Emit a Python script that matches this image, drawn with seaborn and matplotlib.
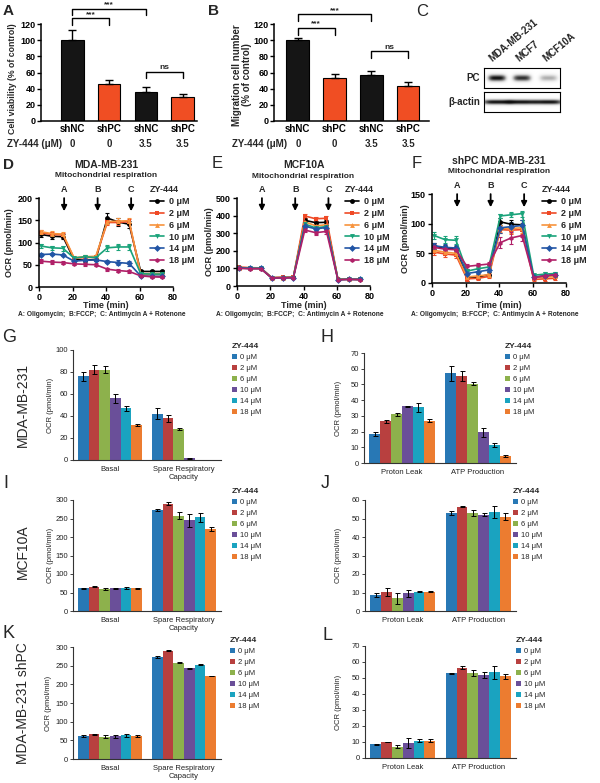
import numpy as np
import pandas as pd
import matplotlib
matplotlib.use("Agg")
import matplotlib.pyplot as plt
import matplotlib.transforms as mtransforms
from matplotlib.lines import Line2D
from matplotlib.patches import Patch
import seaborn as sns

# ---- A / B : viability and migration ----
ab_groups = ["shNC", "shPC", "shNC", "shPC"]
ab_dose = ["0", "0", "3.5", "3.5"]
ab_colors = ["#151515", "#f04e23", "#151515", "#f04e23"]
viability = [100, 46, 36, 30]
viability_err = [13, 5, 6, 3]
migration = [100, 53, 57, 43]
migration_err = [3, 5, 5, 5]
sig_a = [(0, 1, 127, "***"), (0, 2, 139, "***"), (2, 3, 61, "ns")]
sig_b = [(0, 1, 115, "***"), (0, 2, 132, "***"), (2, 3, 86, "ns")]

# ---- C : western blot ----
blot_lines = ["MDA-MB-231", "MCF7", "MCF10A"]
pc_level = [1.0, 0.9, 0.45]
actin_level = [1.0, 1.0, 1.0]

# ---- D / E / F : Seahorse time course ----
doses = ["0 μM", "2 μM", "6 μM", "10 μM", "14 μM", "18 μM"]
time_min = [1.3, 7.8, 14.3, 20.9, 27.4, 33.9, 40.8, 47.3, 53.8, 60.7, 67.2, 73.7]
inject_times = [15, 35, 55]
inject_labels = ["A", "B", "C"]
line_colors = ["#000000", "#ef4a26", "#f7933d", "#1aa37a", "#2255a5", "#b02068"]
line_markers = ["o", "s", "^", "v", "D", "h"]

d_ocr = {
    "0 μM": [118, 114, 113, 62, 60, 62, 155, 146, 141, 35, 35, 35],
    "2 μM": [122, 118, 117, 65, 66, 67, 145, 145, 147, 28, 28, 28],
    "6 μM": [124, 120, 119, 66, 68, 69, 147, 148, 149, 30, 30, 30],
    "10 μM": [92, 88, 87, 65, 68, 66, 88, 90, 90, 30, 29, 29],
    "14 μM": [73, 74, 72, 58, 60, 61, 57, 55, 53, 25, 24, 24],
    "18 μM": [58, 56, 55, 52, 51, 50, 40, 37, 35, 25, 23, 22],
}
d_err = {
    "0 μM": [6, 6, 5, 3, 3, 3, 12, 9, 8, 3, 3, 3],
    "2 μM": [5, 5, 5, 3, 3, 3, 5, 6, 6, 2, 2, 2],
    "6 μM": [5, 5, 5, 3, 3, 3, 5, 6, 6, 2, 2, 2],
    "10 μM": [4, 5, 5, 3, 3, 3, 6, 7, 6, 2, 2, 2],
    "14 μM": [3, 3, 3, 2, 2, 2, 4, 5, 5, 2, 2, 2],
    "18 μM": [5, 5, 4, 3, 3, 3, 3, 4, 4, 2, 2, 2],
}
e_ocr = {
    "0 μM": [102, 100, 100, 47, 48, 49, 373, 360, 362, 38, 39, 38],
    "2 μM": [108, 104, 103, 48, 49, 50, 398, 382, 385, 38, 40, 38],
    "6 μM": [104, 102, 101, 47, 48, 49, 365, 342, 348, 37, 39, 37],
    "10 μM": [103, 101, 100, 46, 47, 48, 352, 330, 338, 36, 38, 37],
    "14 μM": [103, 100, 100, 46, 47, 48, 340, 325, 332, 36, 38, 37],
    "18 μM": [100, 98, 98, 45, 46, 47, 318, 303, 310, 35, 37, 36],
}
e_err = {d: [8, 6, 6, 3, 3, 3, 12, 12, 14, 3, 3, 3] for d in doses}
f_ocr = {
    "0 μM": [62, 59, 57, 8, 10, 14, 103, 99, 98, 9, 12, 13],
    "2 μM": [52, 49, 47, 7, 8, 11, 90, 89, 90, 6, 7, 8],
    "6 μM": [55, 52, 50, 10, 12, 14, 92, 92, 93, 9, 10, 11],
    "10 μM": [80, 73, 72, 20, 24, 27, 113, 115, 117, 13, 15, 16],
    "14 μM": [63, 60, 59, 16, 19, 22, 93, 95, 97, 10, 12, 14],
    "18 μM": [60, 57, 56, 28, 30, 32, 68, 76, 80, 9, 12, 14],
}
f_err = {
    "0 μM": [5, 5, 5, 4, 4, 4, 6, 7, 8, 3, 3, 3],
    "2 μM": [5, 5, 5, 3, 3, 3, 6, 7, 8, 3, 3, 3],
    "6 μM": [5, 5, 5, 3, 3, 3, 6, 7, 8, 3, 3, 3],
    "10 μM": [6, 6, 7, 4, 4, 4, 4, 4, 5, 3, 3, 3],
    "14 μM": [5, 5, 5, 4, 4, 4, 8, 8, 9, 3, 3, 3],
    "18 μM": [5, 5, 5, 4, 4, 4, 9, 10, 10, 3, 3, 3],
}

# ---- G - L : Seahorse summary bars ----
bar_colors = ["#2878b5", "#b8403f", "#8db14c", "#6a4f99", "#1aa3c0", "#ec7c30"]
resp_cats = ["Basal", "Spare Respiratory\nCapacity"]
atp_cats = ["Proton Leak", "ATP Production"]

g_basal = [76, 82, 82, 56, 47, 32]
g_basal_err = [4, 4, 3, 4, 2, 1]
g_spare = [42, 38, 28, 1.5, 0, 0]
g_spare_err = [5, 3, 1, 0.7, 0, 0]

h_leak = [18.5, 26.5, 31, 36, 35.5, 27]
h_leak_err = [1, 1, 1, 0.5, 3, 1]
h_atp = [57, 55.5, 50.5, 19.5, 11.5, 4.5]
h_atp_err = [5, 3, 1, 3, 1, 0.5]

i_basal = [61, 66, 60, 61, 63, 61]
i_basal_err = [2, 2, 3, 2, 3, 2]
i_spare = [273, 290, 258, 245, 253, 222]
i_spare_err = [4, 4, 10, 18, 12, 5]

j_leak = [8.5, 10.2, 7, 9.5, 10.5, 10.5]
j_leak_err = [1, 2, 3, 2, 0.3, 0.3]
j_atp = [53, 56.3, 53, 52, 53.5, 51]
j_atp_err = [1, 0.3, 1.5, 0.8, 3, 2]

k_basal = [61, 66, 60, 61, 63, 61]
k_basal_err = [2, 2, 4, 4, 5, 3]
k_spare = [273, 290, 258, 243, 253, 222]
k_spare_err = [2, 2, 2, 2, 2, 1]

l_leak = [8.5, 10, 7, 9.5, 10.8, 10.8]
l_leak_err = [0.5, 0.3, 1, 3, 1, 1]
l_atp = [53, 56.5, 53, 52, 53.5, 51]
l_atp_err = [0.3, 1, 2, 2, 4, 1.5]

sns.set_theme(style="ticks")
plt.rcParams["font.family"] = ["Liberation Sans", "DejaVu Sans"]
NARROW = ["Liberation Sans Narrow", "Liberation Sans"]

W, H = 600, 783
fig = plt.figure(figsize=(6, 7.83), dpi=100)


def px_axes(x0, y0, x1, y1):
    return fig.add_axes([x0 / W, 1 - y1 / H, (x1 - x0) / W, (y1 - y0) / H])


def fig_text(x, y, s, **kw):
    fig.text(x / W, 1 - y / H, s, **kw)


def prism_style(ax, fs):
    sns.despine(ax=ax)
    for s in ("left", "bottom"):
        ax.spines[s].set_linewidth(1.1)
        ax.spines[s].set_color("black")
    ax.tick_params(direction="out", length=3, width=1, labelsize=fs, pad=1.5, colors="black")
    plt.setp(ax.get_xticklabels() + ax.get_yticklabels(), fontweight="bold")


def bar_panel(x0, x1, vals, errs, sig, dose_x, ylabel_kw):
    ax = px_axes(x0, 24, x1, 121)
    names = [f"{g} {d}" for g, d in zip(ab_groups, ab_dose)]
    sns.barplot(x=names, y=vals, hue=names, palette=ab_colors, legend=False,
                width=0.62, saturation=1, edgecolor="black", linewidth=0.8, ax=ax)
    ax.errorbar(range(4), vals, yerr=[[0] * 4, errs], fmt="none", ecolor="black",
                elinewidth=1, capsize=3, capthick=1, zorder=5)
    ax.set_ylim(0, 120)
    ax.set_yticks(range(0, 121, 20))
    ax.set_xticks(range(4), ab_groups)
    ax.set_xlabel("")
    prism_style(ax, 6.5)
    ax.tick_params(axis="x", length=0, pad=2, labelsize=7)
    ax.tick_params(axis="y", pad=1)
    plt.setp(ax.get_yticklabels(), fontfamily=NARROW, fontsize=6.5)
    trans = mtransforms.blended_transform_factory(ax.transData, ax.transAxes)
    for i, d in enumerate(ab_dose):
        ax.text(i, -0.237, d, transform=trans, ha="center", va="center",
                fontsize=7, fontweight="bold")
    fig_text(dose_x, 144, "ZY-444 (μM)", ha="left", va="center", fontsize=7, fontweight="bold")
    for i, j, y, lab in sig:
        tick = 8
        ax.plot([i, i, j, j], [y - tick, y, y, y - tick], color="black", lw=1, clip_on=False)
        ax.text((i + j) / 2, y + 0.5, lab, ha="center", va="bottom",
                fontsize=6, fontweight="bold", clip_on=False)
    fig_text(**ylabel_kw)
    return ax


# A
ax_a = bar_panel(41, 197, viability, viability_err, sig_a, 7,
                 dict(x=13, y=79, s="Cell viability (% of control)", rotation=90,
                      ha="center", va="center", fontsize=6.3, fontweight="bold",
                      family=NARROW))
ax_a.set_xlim(-0.84, 3.38)
# B
ax_b = bar_panel(274, 429, migration, migration_err, sig_b, 232,
                 dict(x=242, y=75, s="Migration cell number\n(% of control)", rotation=90,
                      ha="center", va="center", fontsize=7, fontweight="bold",
                      linespacing=1.05, family=NARROW))
ax_b.set_xlim(-0.65, 3.57)

# C : blot
lane_x = [0.17, 0.5, 0.85]


def draw_blot(ax, levels, band_w, band_h):
    xs = np.linspace(0, 1, 300)
    ys = np.linspace(0, 1, 80)
    X, Y = np.meshgrid(xs, ys)
    img = np.zeros_like(X)
    for c, lvl in zip(lane_x, levels):
        img += lvl * np.exp(-((X - c) / band_w) ** 4) * np.exp(-((Y - 0.5) / band_h) ** 2)
    ax.imshow(np.clip(img, 0, 1), cmap="Greys", vmin=0, vmax=1.05,
              extent=(0, 1, 0, 1), aspect="auto")
    ax.set_xticks([])
    ax.set_yticks([])
    for s in ax.spines.values():
        s.set_linewidth(0.8)
        s.set_color("black")


ax_pc = px_axes(484, 68, 560, 88)
draw_blot(ax_pc, pc_level, 0.12, 0.17)
ax_ac = px_axes(484, 92, 560, 112)
draw_blot(ax_ac, actin_level, 0.19, 0.13)
fig_text(480, 78, "PC", ha="right", va="center", fontsize=7, fontweight="bold")
fig_text(480, 102, "β-actin", ha="right", va="center", fontsize=7, fontweight="bold")
for lx, name in zip([494, 521, 548], blot_lines):
    fig_text(lx, 64, name, ha="left", va="bottom", rotation=40, rotation_mode="anchor",
             fontsize=7, fontweight="bold")


# D / E / F
def time_panel(box, ocr, err, ymax, ystep, title, leg_xy, ylab_x):
    ax = px_axes(*box)
    rows = []
    for d in doses:
        for t, v in zip(time_min, ocr[d]):
            rows.append((t, v, d))
    df = pd.DataFrame(rows, columns=["time", "ocr", "dose"])
    for d, c in zip(doses, line_colors):
        ax.errorbar(time_min, ocr[d], yerr=err[d], fmt="none", ecolor=c,
                    elinewidth=0.8, capsize=1.5, capthick=0.8)
    sns.lineplot(data=df, x="time", y="ocr", hue="dose", style="dose", hue_order=doses,
                 palette=dict(zip(doses, line_colors)), markers=dict(zip(doses, line_markers)),
                 dashes=False, legend=False, linewidth=1.2, markersize=3.5,
                 markeredgewidth=0, ax=ax)
    ax.set_xlim(0, 80)
    ax.set_ylim(0, ymax)
    ax.set_xticks(range(0, 81, 20))
    ax.set_yticks(np.arange(0, ymax + 1, ystep))
    ax.set_xlabel("")
    ax.set_ylabel("")
    prism_style(ax, 6.5)
    trans = mtransforms.blended_transform_factory(ax.transData, ax.transAxes)
    for t, lab in zip(inject_times, inject_labels):
        ax.annotate("", xy=(t, 0.82), xytext=(t, 1.03), xycoords=trans, textcoords=trans,
                    arrowprops=dict(arrowstyle="-|>", color="black", lw=1.3, mutation_scale=8),
                    annotation_clip=False)
        ax.text(t, 1.1, lab, transform=trans, ha="center", va="center",
                fontsize=6.5, fontweight="bold", clip_on=False)
    ax.text(0.5, 1.37, title, transform=ax.transAxes, ha="center", va="center",
            fontsize=7.5, fontweight="bold")
    ax.text(0.5, 1.25, "Mitochondrial respiration", transform=ax.transAxes, ha="center",
            va="center", fontsize=6, fontweight="bold")
    handles = [Line2D([0], [0], color=c, marker=m, lw=1.2, ms=3.5, mew=0)
               for c, m in zip(line_colors, line_markers)]
    ax.legend(handles, doses, loc="upper left", bbox_to_anchor=(leg_xy[0] / W, 1 - leg_xy[1] / H),
              bbox_transform=fig.transFigure, frameon=False, title="ZY-444",
              prop={"weight": "bold", "size": 6.5},
              title_fontproperties={"weight": "bold", "size": 6.5},
              handlelength=1.6, handletextpad=0.5, labelspacing=0.32,
              borderaxespad=0, borderpad=0, alignment="left")
    cx = (box[0] + box[2]) / 2
    fig_text(ylab_x, (box[1] + box[3]) / 2, "OCR (pmol/min)", rotation=90, ha="center",
             va="center", fontsize=6.5, fontweight="bold")
    fig_text(cx, 305.5, "Time (min)", ha="center", va="center", fontsize=6.5, fontweight="bold")
    fig_text(cx - 4, 314, "A: Oligomycin;  B:FCCP;  C: Antimycin A + Rotenone", ha="center",
             va="center", fontsize=4.8, fontweight="bold")
    return ax


time_panel((39, 198, 173, 287), d_ocr, d_err, 200, 50, "MDA-MB-231", (150, 185), 10)
time_panel((237, 198, 370, 286), e_ocr, e_err, 500, 100, "MCF10A", (345, 185), 210)
time_panel((432, 194, 566, 283), f_ocr, f_err, 150, 50, "shPC MDA-MB-231", (542, 185), 405)


# G - L
def group_panel(box, cats, series, errs, ymax, ystep, leg_xy, ylab_x):
    ax = px_axes(*box)
    rows = []
    for ci, cat in enumerate(cats):
        for di, d in enumerate(doses):
            rows.append((cat, d, series[ci][di]))
    df = pd.DataFrame(rows, columns=["cat", "dose", "ocr"])
    sns.barplot(data=df, x="cat", y="ocr", hue="dose", order=cats, hue_order=doses,
                palette=bar_colors, errorbar=None, width=0.86, saturation=1,
                legend=False, linewidth=0, ax=ax)
    bar_sets = list(ax.containers)
    for di, cont in enumerate(bar_sets):
        for ci, bar in enumerate(cont):
            e = errs[ci][di]
            if e <= 0:
                continue
            ax.errorbar(bar.get_x() + bar.get_width() / 2, bar.get_height(), yerr=e,
                        fmt="none", ecolor="black", elinewidth=0.7, capsize=1.8,
                        capthick=0.7, zorder=5)
    ax.set_xlim(-0.5, 1.5)
    ax.set_ylim(0, ymax)
    ax.set_yticks(np.arange(0, ymax + 1, ystep))
    ax.set_xlabel("")
    ax.set_ylabel("")
    sns.despine(ax=ax)
    for s in ("left", "bottom"):
        ax.spines[s].set_linewidth(0.8)
        ax.spines[s].set_color("#333333")
    ax.tick_params(axis="y", direction="out", length=2, width=0.6, labelsize=5.5, pad=1.5,
                   colors="#222222")
    ax.tick_params(axis="x", length=0, labelsize=5.5, pad=4, colors="#222222")
    handles = [Patch(facecolor=c, edgecolor="none") for c in bar_colors]
    ax.legend(handles, doses, loc="upper left", bbox_to_anchor=(leg_xy[0] / W, 1 - leg_xy[1] / H),
              bbox_transform=fig.transFigure, frameon=False, title="ZY-444",
              prop={"size": 5.5}, title_fontproperties={"weight": "bold", "size": 6},
              handlelength=0.7, handleheight=0.7, handletextpad=0.3, labelspacing=0.48,
              borderaxespad=0, borderpad=0, alignment="left")
    fig_text(ylab_x, (box[1] + box[3]) / 2, "OCR (pmol/min)", rotation=90, ha="center",
             va="center", fontsize=5.5)
    return ax


group_panel((73, 350, 221, 460), resp_cats, [g_basal, g_spare], [g_basal_err, g_spare_err],
            100, 20, (232, 343), 50)
group_panel((364, 353, 516, 463), atp_cats, [h_leak, h_atp], [h_leak_err, h_atp_err],
            70, 10, (505, 343), 338)
group_panel((73, 500, 221, 611), resp_cats, [i_basal, i_spare], [i_basal_err, i_spare_err],
            300, 50, (232, 488), 50)
group_panel((365, 500, 516, 611), atp_cats, [j_leak, j_atp], [j_leak_err, j_atp_err],
            60, 10, (513, 488), 338)
group_panel((73, 647, 221, 759), resp_cats, [k_basal, k_spare], [k_basal_err, k_spare_err],
            300, 50, (230, 637), 48)
group_panel((365, 646, 516, 758), atp_cats, [l_leak, l_atp], [l_leak_err, l_atp_err],
            70, 10, (516, 637), 338)

for y, lab in [(405, "MDA-MB-231"), (552, "MCF10A"), (703, "MDA-MB-231 shPC")]:
    fig_text(23, y, lab, rotation=90, ha="center", va="center", fontsize=10)

# panel letters
for x, y, lab, kw in [(3, 11, "A", dict(fontweight="bold", fontsize=11)),
                      (208, 11, "B", dict(fontweight="bold", fontsize=11)),
                      (416, 11, "C", dict(fontsize=12)),
                      (3, 165, "D", dict(fontweight="bold", fontsize=11)),
                      (212, 164, "E", dict(fontsize=12)),
                      (412, 164, "F", dict(fontsize=12)),
                      (2, 338, "G", dict(fontsize=13)),
                      (320, 338, "H", dict(fontsize=13)),
                      (3, 483, "I", dict(fontsize=13)),
                      (321, 483, "J", dict(fontsize=13)),
                      (3, 633, "K", dict(fontsize=13)),
                      (322, 636, "L", dict(fontsize=13))]:
    fig_text(x, y, lab, ha="left", va="center", **kw)

fig.savefig("out.png", dpi=100)
